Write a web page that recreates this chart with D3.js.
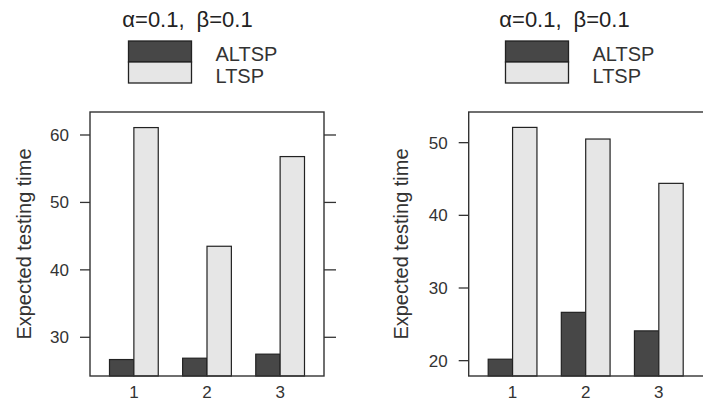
<!DOCTYPE html>
<html>
<head>
<meta charset="utf-8">
<script src="https://cdn.jsdelivr.net/npm/d3@7"></script>
<style>
  body { margin: 0; background: #fff; }
  svg { display: block; font-family: "Liberation Sans", Arial, sans-serif; }
</style>
</head>
<body>
<svg id="chart" width="703" height="400"></svg>
<script>
const groups = ["1", "2", "3"];
const seriesNames = ["ALTSP", "LTSP"];
const seriesColors = ["#474747", "#e6e6e6"];

// values
const leftALTSP = [26.7, 26.9, 27.5];
const leftLTSP = [61.1, 43.5, 56.8];
const rightALTSP = [20.2, 26.65, 24.1];
const rightLTSP = [52.1, 50.5, 44.4];

const leftTicks = [30, 40, 50, 60];
const rightTicks = [20, 30, 40, 50];
const yLabel = "Expected testing time";

const box_top = 112;
const box_bottom = 376;

var svg = d3.select("#chart");

/* one lattice-like panel: title, legend, boxed bars */
function drawPanel(opt) {
    var g = svg.append("g");
    var box_w = opt.width;

    var x = d3.scaleLinear()
        .domain([0.4, groups.length + 0.6])
        .range([opt.left, opt.left + 234]);
    var y = d3.scaleLinear()
        .domain(opt.yDomain)
        .range([box_bottom, box_top]);

    // title with greek letters
    var t = g.append("text")
        .attr("x", opt.titleX)
        .attr("y", 27)
        .attr("text-anchor", "middle")
        .attr("font-size", 22)
        .attr("fill", "#222");
    t.append("tspan").text("α=0.1,");
    t.append("tspan").attr("dx", 12).text("β=0.1");

    // legend
    var lx = opt.titleX - 59;
    seriesNames.forEach((name, i) => {
        g.append("rect")
            .attr("x", lx)
            .attr("y", 41 + i * 21)
            .attr("width", 63)
            .attr("height", 21)
            .attr("fill", seriesColors[i])
            .attr("stroke", "#222")
            .attr("stroke-width", 1.3);
        g.append("text")
            .attr("x", lx + 87)
            .attr("y", 60.5 + i * 22)
            .attr("font-size", 20)
            .attr("fill", "#333")
            .text(name);
    });

    // bars
    var bw = 1 / 3;
    var rows = [];
    groups.forEach((grp, i) => {
        rows.push({ k: 0, pos: i + 1 - bw, v: opt.a[i] });
        rows.push({ k: 1, pos: i + 1, v: opt.b[i] });
    });
    g.selectAll("rect.bar")
        .data(rows)
        .enter()
        .append("rect")
        .attr("class", "bar")
        .attr("x", (d) => x(d.pos))
        .attr("width", (d) => x(d.pos + bw) - x(d.pos))
        .attr("y", (d) => y(d.v))
        .attr("height", (d) => box_bottom - y(d.v))
        .attr("fill", (d) => seriesColors[d.k])
        .attr("stroke", "#222")
        .attr("stroke-width", 1.2);

    // panel box
    g.append("rect")
        .attr("x", opt.left)
        .attr("y", box_top)
        .attr("width", box_w)
        .attr("height", box_bottom - box_top)
        .attr("fill", "none")
        .attr("stroke", "#333")
        .attr("stroke-width", 1.4);

    // y ticks on both sides, labels on the left
    var ticks = g.selectAll("g.ytick")
        .data(opt.ticks)
        .enter()
        .append("g")
        .attr("transform", (d) => "translate(0," + y(d) + ")");
    ticks.append("line")
        .attr("x1", opt.left - 10).attr("x2", opt.left)
        .attr("stroke", "#333").attr("stroke-width", 1.3);
    ticks.append("line")
        .attr("x1", opt.left + box_w).attr("x2", opt.left + box_w + 12)
        .attr("stroke", "#333").attr("stroke-width", 1.3);
    ticks.append("text")
        .attr("x", opt.left - 21)
        .attr("dy", "0.35em")
        .attr("text-anchor", "end")
        .attr("font-size", 17)
        .attr("fill", "#333")
        .text((d) => d);

    // x labels
    g.selectAll("text.xlab")
        .data(groups)
        .enter()
        .append("text")
        .attr("x", (d, i) => x(i + 1))
        .attr("y", 397.5)
        .attr("text-anchor", "middle")
        .attr("font-size", 17)
        .attr("fill", "#333")
        .text((d) => d);

    // y axis title
    g.append("text")
        .attr("transform", "translate(" + opt.labelX + "," + (box_top + box_bottom) / 2 + ") rotate(-90)")
        .attr("text-anchor", "middle")
        .attr("font-size", 20)
        .attr("fill", "#333")
        .text(yLabel);
}

drawPanel({ left: 90, width: 234, yDomain: [24.26, 63.41], ticks: leftTicks,
            a: leftALTSP, b: leftLTSP, titleX: 187.5, labelX: 31 });
drawPanel({ left: 468.7, width: 236, yDomain: [17.89, 54.22], ticks: rightTicks,
            a: rightALTSP, b: rightLTSP, titleX: 564.5, labelX: 408 });
</script>
</body>
</html>
